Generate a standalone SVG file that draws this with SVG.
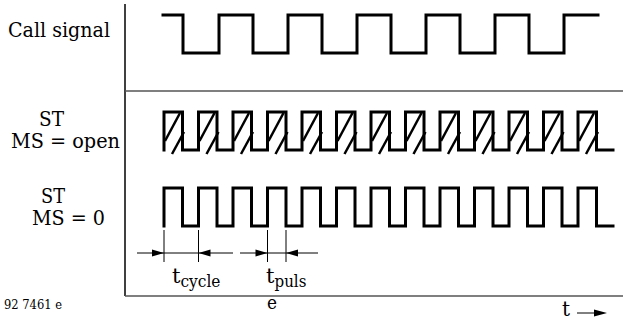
<svg xmlns="http://www.w3.org/2000/svg" width="623" height="320" viewBox="0 0 623 320">
<style>
text{font-family:"DejaVu Serif","Liberation Serif",serif;fill:#000}
.wave{fill:none;stroke:#000;stroke-width:3;stroke-linejoin:miter;stroke-linecap:square}
.hatch line{stroke:#000;stroke-width:2.5}
.axis{stroke:#000;stroke-width:1.5;fill:none}
.sep{stroke:#555;stroke-width:1.5;fill:none}
.dim{stroke:#000;stroke-width:1;fill:none}
.head{fill:#000}
</style>
<defs>
<g id="hatch" class="hatch">
<line x1="1" y1="-9" x2="16" y2="-37"/>
<line x1="8" y1="4" x2="20" y2="-18"/>
</g>
</defs>
<rect width="623" height="320" fill="#fff"/>
<g id="axes">
<line class="axis" x1="125" y1="4" x2="125" y2="296"/>
<line class="sep" x1="125" y1="91" x2="623" y2="91"/>
<line class="sep" x1="125" y1="296" x2="623" y2="296"/>
</g>
<g id="labels">
<text x="8" y="37" font-size="20.5" textLength="102" lengthAdjust="spacingAndGlyphs">Call signal</text>
<text x="39" y="126" font-size="21" textLength="25" lengthAdjust="spacingAndGlyphs">ST</text>
<text x="11" y="148" font-size="20.5" textLength="109" lengthAdjust="spacingAndGlyphs">MS = open</text>
<text x="41" y="203" font-size="21" textLength="24" lengthAdjust="spacingAndGlyphs">ST</text>
<text x="32" y="225" font-size="20.5" textLength="73" lengthAdjust="spacingAndGlyphs">MS = 0</text>
<text x="4" y="309" font-size="12.5" textLength="58" lengthAdjust="spacingAndGlyphs">92 7461 e</text>
<text x="267" y="309" font-size="19" textLength="10" lengthAdjust="spacingAndGlyphs">e</text>
</g>
<g id="call-signal">
<path class="wave" d="M163,15 H183 V53 H219 V15 H253 V53 H288 V15 H322 V53 H357 V15 H391 V53 H426 V15 H460 V53 H495 V15 H529 V53 H564 V15 H598"/>
</g>
<g id="st-ms-open">
<path class="wave" d="M164,150 V112 H182.5 V150 H198.5 V112 H217 V150 H233 V112 H251.5 V150 H267.5 V112 H286 V150 H302 V112 H320.5 V150 H336.5 V112 H355 V150 H371 V112 H389.5 V150 H405.5 V112 H424 V150 H440 V112 H458.5 V150 H474.5 V112 H493 V150 H509 V112 H527.5 V150 H543.5 V112 H562 V150 H578 V112 H596.5 V150 H613"/>
<use href="#hatch" x="164" y="150"/>
<use href="#hatch" x="198.5" y="150"/>
<use href="#hatch" x="233" y="150"/>
<use href="#hatch" x="267.5" y="150"/>
<use href="#hatch" x="302" y="150"/>
<use href="#hatch" x="336.5" y="150"/>
<use href="#hatch" x="371" y="150"/>
<use href="#hatch" x="405.5" y="150"/>
<use href="#hatch" x="440" y="150"/>
<use href="#hatch" x="474.5" y="150"/>
<use href="#hatch" x="509" y="150"/>
<use href="#hatch" x="543.5" y="150"/>
<use href="#hatch" x="578" y="150"/>
</g>
<g id="st-ms-0">
<path class="wave" d="M164,226 V188 H182.5 V226 H198.5 V188 H217 V226 H233 V188 H251.5 V226 H267.5 V188 H286 V226 H302 V188 H320.5 V226 H336.5 V188 H355 V226 H371 V188 H389.5 V226 H405.5 V188 H424 V226 H440 V188 H458.5 V226 H474.5 V188 H493 V226 H509 V188 H527.5 V226 H543.5 V188 H562 V226 H578 V188 H596.5 V226 H613"/>
</g>
<g id="connectors">
<g id="t-cycle">
<line class="dim" x1="137" y1="253" x2="233" y2="253"/>
<line class="dim" x1="164" y1="230" x2="164" y2="262"/>
<line class="dim" x1="198.5" y1="230" x2="198.5" y2="262"/>
<polygon class="head" points="164,253 152,249.5 152,256.5"/>
<polygon class="head" points="198.5,253 210.5,249.5 210.5,256.5"/>
<text x="172" y="283" font-size="21">t<tspan font-size="17" dy="4" textLength="40" lengthAdjust="spacingAndGlyphs">cycle</tspan></text>
</g>
<g id="t-puls">
<line class="dim" x1="240" y1="253" x2="318" y2="253"/>
<line class="dim" x1="267.5" y1="230" x2="267.5" y2="262"/>
<line class="dim" x1="286" y1="230" x2="286" y2="262"/>
<polygon class="head" points="267.5,253 255.5,249.5 255.5,256.5"/>
<polygon class="head" points="286,253 298,249.5 298,256.5"/>
<text x="266" y="283" font-size="21">t<tspan font-size="17" dy="4" textLength="32" lengthAdjust="spacingAndGlyphs">puls</tspan></text>
</g>
<g id="time-arrow">
<text x="562" y="316" font-size="20">t</text>
<line class="dim" x1="577" y1="313" x2="598" y2="313"/>
<polygon class="head" points="607,313 594,309.5 594,316.5"/>
</g>
</g>
</svg>
